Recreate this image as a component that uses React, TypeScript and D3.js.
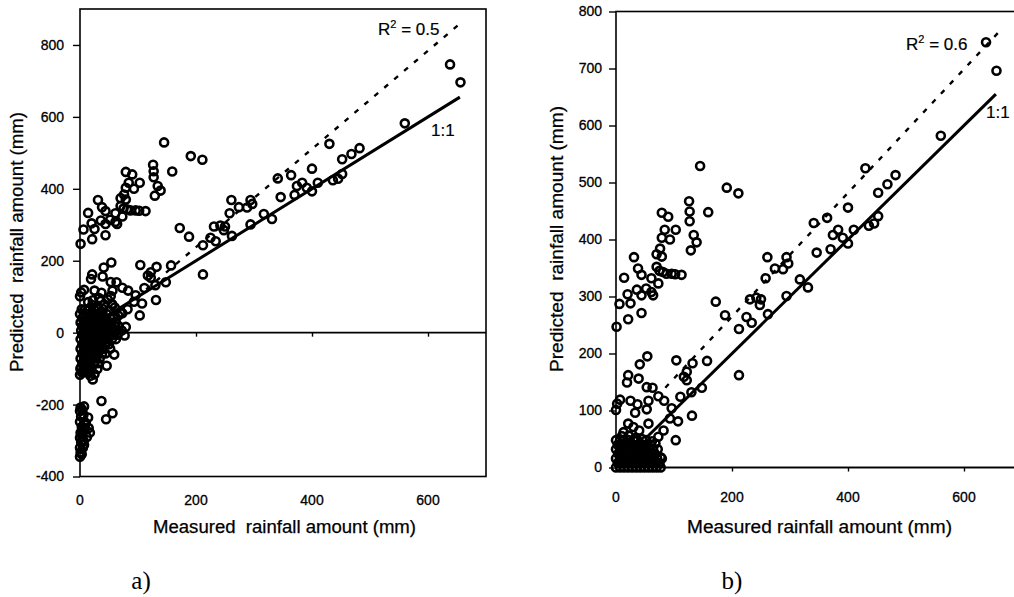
import React, { useEffect, useRef } from "react";
import * as d3 from "d3";

// [measured, predicted] rainfall in mm, shared by both panels
const upperBand: [number, number][] = [
  [1, 247], [6, 287], [14, 333], [20, 304], [21, 260], [25, 288], [31, 369], [36, 312],
  [38, 349], [44, 338], [44, 302], [44, 271], [52, 314], [61, 308], [64, 302], [61, 332],
  [73, 323], [70, 352], [75, 345], [70, 374], [79, 370], [76, 384], [81, 343], [87, 340],
  [96, 340], [102, 339], [113, 338], [79, 447], [90, 440], [84, 417], [79, 403], [93, 400],
  [103, 417], [126, 467], [127, 449], [127, 432], [129, 381], [134, 408], [139, 395],
  [145, 529], [159, 448], [191, 491], [211, 481],
];

const middleBand: [number, number][] = [
  [172, 291], [188, 267], [212, 243], [212, 162], [225, 264], [234, 254], [231, 295],
  [242, 298], [250, 295], [248, 285], [262, 269], [261, 369], [258, 332], [274, 349],
  [288, 348], [294, 369], [297, 358], [294, 301], [317, 330], [331, 316], [341, 429],
  [346, 377], [364, 438], [370, 383], [374, 408], [383, 417], [391, 403], [400, 393],
  [400, 456], [410, 417], [430, 525], [436, 424], [445, 428], [452, 441], [452, 482],
  [468, 497], [482, 513], [560, 582], [638, 746], [656, 696],
];

const lowerBand: [number, number][] = [
  [104, 188], [132, 183], [157, 187], [54, 195], [41, 181], [21, 162], [19, 149], [39, 156],
  [53, 141], [63, 140], [73, 125], [83, 117], [56, 117], [111, 124], [117, 159], [122, 153],
  [122, 168], [130, 132], [148, 140], [131, 91], [96, 104], [107, 81], [103, 48], [93, 86],
  [82, 65], [7, 119], [0, 101], [2, 112], [25, 117], [37, 111], [33, 96], [53, 102],
  [56, 77], [21, 77], [13, 62], [30, 71], [40, 65], [73, 54], [79, 16],
];

// near-origin points, panel a (negative predictions kept)
const originClusterA: [number, number][] = [
  [0, -345], [1, -333], [0, -320], [2, -305], [0, -292], [1, -278], [3, -262], [0, -248],
  [2, -233], [0, -218], [1, -208], [14, -236], [10, -251], [15, -265], [17, -278],
  [12, -290], [6, -300], [5, -320], [7, -205], [6, -228], [8, -252], [5, -275], [7, -312],
  [3, -338], [9, -265], [4, -215], [4, -290],
  [37, -190], [45, -241], [56, -224], [59, -61], [46, -92], [30, -101], [22, -130],
  [25, -116], [18, -120], [77, -8], [12, -95], [8, -80], [0, -117], [1, -102],
  [3, 65], [9, 65], [16, 65], [24, 65], [32, 65],
  [0, 52], [7, 52], [13, 52], [19, 52], [27, 52], [33, 52], [39, 52], [46, 52],
  [4, 40], [11, 40], [17, 40], [24, 40], [30, 40], [37, 40], [43, 40], [52, 40], [58, 40],
  [1, 28], [8, 28], [13, 28], [21, 28], [27, 28], [34, 28], [40, 28], [47, 28], [54, 28], [62, 28],
  [4, 18], [11, 18], [18, 18], [25, 18], [33, 18], [38, 18], [45, 18], [53, 18], [60, 18], [67, 18],
  [2, 6], [8, 6], [15, 6], [22, 6], [28, 6], [35, 6], [42, 6], [49, 6], [56, 6], [63, 6], [72, 6],
  [4, -6], [11, -6], [18, -6], [25, -6], [31, -6], [38, -6], [44, -6], [52, -6], [58, -6], [65, -6],
  [1, -18], [8, -18], [14, -18], [22, -18], [28, -18], [34, -18], [41, -18], [47, -18], [55, -18], [62, -18],
  [4, -32], [11, -32], [17, -32], [24, -32], [31, -32], [37, -32], [44, -32], [50, -32],
  [1, -45], [7, -45], [14, -45], [20, -45], [27, -45], [34, -45], [40, -45], [52, -45],
  [4, -58], [10, -58], [17, -58], [23, -58], [30, -58], [38, -58], [44, -58],
  [1, -72], [7, -72], [13, -72], [20, -72], [27, -72], [34, -72],
  [4, -85], [10, -85], [16, -85], [24, -85], [31, -85],
  [1, -98], [7, -98], [14, -98], [20, -98],
  [3, -110], [9, -110], [15, -110],
  [14, 85], [22, 90], [36, 88], [42, 78], [48, 92], [55, 80], [60, 70], [66, 48], [70, 55],
];

// near-origin points, panel b (predictions floored at zero)
const originClusterB: [number, number][] = [
  [0, 0], [7, 0], [14, 0], [21, 0], [28, 0], [35, 0], [42, 0], [49, 0], [56, 0], [63, 0], [70, 0], [77, 0],
  [3, 8], [11, 8], [18, 8], [25, 8], [32, 8], [39, 8], [46, 8], [53, 8], [60, 8], [67, 8], [75, 8],
  [0, 16], [7, 16], [14, 16], [22, 16], [29, 16], [36, 16], [43, 16], [50, 16], [57, 16], [64, 16], [71, 16], [77, 18],
  [4, 24], [11, 24], [18, 24], [25, 24], [32, 24], [39, 24], [46, 24], [53, 24], [60, 24], [67, 24],
  [0, 32], [7, 32], [14, 32], [21, 32], [28, 32], [36, 32], [43, 32], [50, 32], [57, 32], [64, 32], [72, 32],
  [3, 40], [10, 40], [17, 40], [24, 40], [31, 40], [38, 40], [46, 40], [53, 40], [60, 40], [68, 42],
  [0, 48], [7, 48], [14, 48], [22, 48], [30, 48], [37, 48], [45, 50], [52, 48], [62, 46],
  [10, 55], [22, 56], [34, 52],
];

const oneToOneA: [number, number][] = [[40, 40], [655, 655]];
const fitLineA: [number, number][] = [[97, 97], [660, 866]];
const oneToOneB: [number, number][] = [[50, 50], [655, 655]];
const fitLineB: [number, number][] = [[85, 140], [660, 764]];

const xTicks = [0, 200, 400, 600];
const yTicksA = [-400, -200, 0, 200, 400, 600, 800];
const yTicksB = [0, 100, 200, 300, 400, 500, 600, 700, 800];

const FONT = "Arial, 'Liberation Sans', sans-serif";

function drawPanel(svg, o) {
  const x = d3.scaleLinear().domain([0, 700]).range([o.left, o.right]);
  const y = d3.scaleLinear().domain(o.yDomain).range([o.bottom, o.top]);
  const g = svg.append("g");

  g.append("rect")
    .attr("x", o.left)
    .attr("y", o.top)
    .attr("width", o.right - o.left)
    .attr("height", o.bottom - o.top)
    .attr("fill", "none")
    .attr("stroke", "#000")
    .attr("stroke-width", 1.6);

  const yAxis = g
    .append("g")
    .attr("transform", `translate(${o.left},0)`)
    .call(
      d3.axisLeft(y).tickValues(o.yTicks).tickSize(7).tickPadding(o.yPad).tickFormat((d) => String(d))
    );
  yAxis.select(".domain").remove();
  yAxis.selectAll("line").attr("stroke-width", 1.4);
  yAxis
    .selectAll("text")
    .attr("font-family", FONT)
    .attr("font-size", 14)
    .attr("fill", "#000")
    .attr("stroke", "#000")
    .attr("stroke-width", 0.3);

  // zero line carries the x ticks
  const xAxis = g
    .append("g")
    .attr("transform", `translate(0,${y(0)})`)
    .call(d3.axisBottom(x).tickValues(xTicks).tickSize(4).tickSizeOuter(0).tickFormat(() => ""));
  xAxis.select(".domain").attr("stroke-width", 1.6).attr("d", `M${o.left},0H${o.right}`);
  xAxis.selectAll("line").attr("stroke-width", 1.4);

  g.selectAll(".xlab")
    .data(xTicks)
    .enter()
    .append("text")
    .attr("x", (d) => x(d))
    .attr("y", o.xLabelY)
    .attr("text-anchor", "middle")
    .attr("font-family", FONT)
    .attr("font-size", 14)
    .attr("stroke", "#000")
    .attr("stroke-width", 0.3)
    .text((d) => d);

  const line = d3.line().x((d) => x(d[0])).y((d) => y(d[1]));
  g.append("path")
    .attr("d", line(o.fit))
    .attr("fill", "none")
    .attr("stroke", "#000")
    .attr("stroke-width", 2.4)
    .attr("stroke-dasharray", "5,8");
  g.append("path")
    .attr("d", line(o.oneToOne))
    .attr("fill", "none")
    .attr("stroke", "#000")
    .attr("stroke-width", 3);

  g.selectAll("circle")
    .data(o.points)
    .enter()
    .append("circle")
    .attr("cx", (d) => x(d[0]))
    .attr("cy", (d) => y(d[1]))
    .attr("r", 4)
    .attr("fill", "none")
    .attr("stroke", "#000")
    .attr("stroke-width", 2.6);

  const r2 = g
    .append("text")
    .attr("x", o.r2x)
    .attr("y", o.r2y)
    .attr("font-family", FONT)
    .attr("font-size", 17)
    .attr("stroke", "#000")
    .attr("stroke-width", 0.2);
  r2.append("tspan").text("R");
  r2.append("tspan").attr("font-size", 11).attr("dy", -7).text("2");
  r2.append("tspan").attr("dy", 7).style("white-space", "pre").text(" = " + o.r2);

  g.append("text")
    .attr("x", o.oneX)
    .attr("y", o.oneY)
    .attr("font-family", FONT)
    .attr("font-size", 17)
    .attr("stroke", "#000")
    .attr("stroke-width", 0.2)
    .text("1:1");

  g.append("text")
    .attr("transform", `translate(${o.yTitleX},${o.yTitleY}) rotate(-90)`)
    .attr("text-anchor", "middle")
    .attr("dy", "0.35em")
    .attr("font-family", FONT)
    .attr("font-size", 17.5)
    .attr("stroke", "#000")
    .attr("stroke-width", 0.25)
    .attr("textLength", o.yTitleLen)
    .attr("lengthAdjust", "spacingAndGlyphs")
    .style("white-space", "pre")
    .text("Predicted  rainfall amount (mm)");

  g.append("text")
    .attr("x", o.xTitleX)
    .attr("y", o.xTitleY)
    .attr("text-anchor", "middle")
    .attr("font-family", FONT)
    .attr("font-size", 17.5)
    .attr("stroke", "#000")
    .attr("stroke-width", 0.25)
    .attr("textLength", o.xTitleLen)
    .attr("lengthAdjust", "spacingAndGlyphs")
    .style("white-space", "pre")
    .text(o.xTitle);

  g.append("text")
    .attr("x", o.tagX)
    .attr("y", 589)
    .attr("text-anchor", "middle")
    .attr("font-family", "'Liberation Serif', 'DejaVu Serif', serif")
    .attr("font-size", 25)
    .text(o.tag);
}

export default function App() {
  const ref = useRef(null);

  useEffect(() => {
    const svg = d3.select(ref.current);
    svg.selectAll("*").remove();

    drawPanel(svg, {
      left: 80, right: 486, top: 9, bottom: 476.5,
      yDomain: [-400, 900], yTicks: yTicksA, yPad: 9, xLabelY: 505,
      points: [...upperBand, ...middleBand, ...lowerBand, ...originClusterA],
      oneToOne: oneToOneA, fit: fitLineA,
      r2: "0.5", r2x: 378, r2y: 35, oneX: 431, oneY: 136,
      yTitleX: 17, yTitleY: 242, yTitleLen: 260,
      xTitle: "Measured  rainfall amount (mm)", xTitleX: 284.5, xTitleY: 533, xTitleLen: 263,
      tag: "a)", tagX: 141,
    });

    drawPanel(svg, {
      left: 616, right: 1022, top: 11.5, bottom: 467.5,
      yDomain: [0, 800], yTicks: yTicksB, yPad: 7, xLabelY: 502,
      points: [...upperBand, ...middleBand, ...lowerBand, ...originClusterB],
      oneToOne: oneToOneB, fit: fitLineB,
      r2: "0.6", r2x: 906, r2y: 50, oneX: 986, oneY: 118,
      yTitleX: 557, yTitleY: 239, yTitleLen: 266,
      xTitle: "Measured rainfall amount (mm)", xTitleX: 819.5, xTitleY: 533, xTitleLen: 265,
      tag: "b)", tagX: 732,
    });
  }, []);

  return (
    <svg
      ref={ref}
      width={1014}
      height={597}
      style={{ position: "absolute", left: 0, top: 0, background: "#fff" }}
    />
  );
}
